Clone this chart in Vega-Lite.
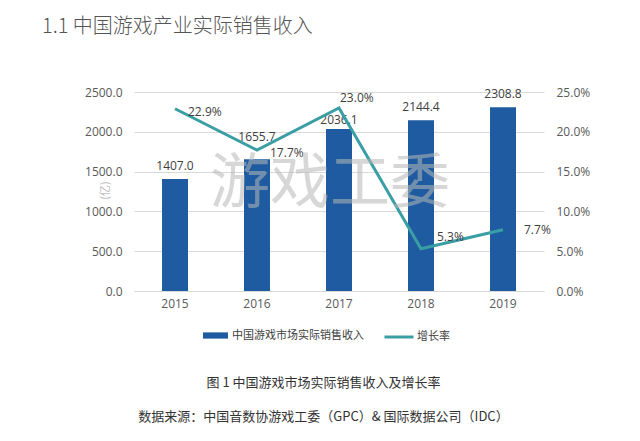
{
  "$schema": "https://vega.github.io/schema/vega-lite/v6.json",
  "width": 410,
  "height": 199,
  "autosize": {"type": "none"},
  "padding": {"left": 134, "top": 92, "right": 96, "bottom": 150},
  "background": "white",
  "title": {
    "text": "1.1  中国游戏产业实际销售收入",
    "anchor": "start",
    "frame": "group",
    "dx": -92,
    "offset": 33,
    "baseline": "alphabetic",
    "font": "Noto Sans CJK SC",
    "fontSize": 20,
    "fontWeight": 300,
    "color": "#555555"
  },
  "data": {
    "values": [
      {"year": "2015", "revenue": 1407.0, "rate": 0.229},
      {"year": "2016", "revenue": 1655.7, "rate": 0.177},
      {"year": "2017", "revenue": 2036.1, "rate": 0.230},
      {"year": "2018", "revenue": 2144.4, "rate": 0.053},
      {"year": "2019", "revenue": 2308.8, "rate": 0.077}
    ]
  },
  "layer": [
    {
      "layer": [
        {
          "mark": {"type": "bar", "size": 26},
          "encoding": {
            "x": {
              "field": "year",
              "type": "nominal",
              "scale": {"paddingInner": 0, "paddingOuter": 0},
              "axis": {
                "title": ["图 1  中国游戏市场实际销售收入及增长率", "数据来源：中国音数协游戏工委（GPC）& 国际数据公司（IDC）"],
                "titleX": 189,
                "titleY": 85,
                "titleAlign": "center",
                "titleBaseline": "top",
                "titleLineHeight": 34,
                "titleFont": "Noto Sans CJK SC",
                "titleFontSize": 13,
                "titleFontWeight": "normal",
                "titleColor": "#333333",
                "labelAngle": 0,
                "labelFont": "Open Sans",
                "labelFontSize": 12,
                "labelColor": "#595959",
                "labelPadding": 7,
                "ticks": false,
                "domain": true,
                "domainColor": "#d9d9d9",
                "grid": false
              }
            },
            "y": {
              "field": "revenue",
              "type": "quantitative",
              "scale": {"domain": [0, 2500], "nice": false},
              "axis": {
                "title": "(亿)",
                "titleX": -29,
                "titleY": 98,
                "titleAngle": -90,
                "titleAlign": "center",
                "titleBaseline": "middle",
                "titleColor": "#bdbdbd",
                "titleFont": "Noto Sans CJK SC",
                "titleFontSize": 11,
                "titleFontWeight": "normal",
                "values": [0, 500, 1000, 1500, 2000, 2500],
                "tickCount": 6,
                "labelOverlap": false,
                "format": ".1f",
                "labelFont": "Open Sans",
                "labelFontSize": 12,
                "labelColor": "#595959",
                "labelPadding": 12,
                "ticks": false,
                "domain": false,
                "grid": true,
                "gridColor": "#d9d9d9"
              }
            },
            "fill": {
              "datum": "中国游戏市场实际销售收入",
              "type": "nominal",
              "scale": {"range": ["#1e5ba0"]},
              "legend": {
                "orient": "none",
                "legendX": 69,
                "legendY": 231,
                "title": null,
                "symbolType": "M-1,-0.25H1V0.25H-1Z",
                "symbolSize": 625,
                "symbolStrokeWidth": 0,
                "labelFont": "Noto Sans CJK SC",
                "labelFontSize": 11,
                "labelColor": "#404040",
                "labelOffset": 4
              }
            }
          }
        },
        {
          "transform": [{"filter": "datum.year != '2016' && datum.year != '2017'"}],
          "mark": {"type": "text", "baseline": "middle", "dy": -13, "font": "Open Sans", "fontSize": 12, "color": "#404040"},
          "encoding": {
            "x": {"field": "year", "type": "nominal"},
            "y": {"field": "revenue", "type": "quantitative"},
            "text": {"field": "revenue", "type": "quantitative", "format": ".1f"}
          }
        },
        {
          "transform": [{"filter": "datum.year == '2016'"}],
          "mark": {"type": "text", "baseline": "middle", "dy": -22, "font": "Open Sans", "fontSize": 12, "color": "#404040"},
          "encoding": {
            "x": {"field": "year", "type": "nominal"},
            "y": {"field": "revenue", "type": "quantitative"},
            "text": {"field": "revenue", "type": "quantitative", "format": ".1f"}
          }
        },
        {
          "transform": [{"filter": "datum.year == '2017'"}],
          "mark": {"type": "text", "baseline": "middle", "dy": -9, "font": "Open Sans", "fontSize": 12, "color": "#404040"},
          "encoding": {
            "x": {"field": "year", "type": "nominal"},
            "y": {"field": "revenue", "type": "quantitative"},
            "text": {"field": "revenue", "type": "quantitative", "format": ".1f"}
          }
        }
      ]
    },
    {
      "layer": [
        {
          "mark": {"type": "line", "strokeWidth": 3},
          "encoding": {
            "x": {"field": "year", "type": "nominal"},
            "y": {
              "field": "rate",
              "type": "quantitative",
              "scale": {"domain": [0, 0.25], "nice": false},
              "axis": {
                "orient": "right",
                "title": null,
                "values": [0, 0.05, 0.1, 0.15, 0.2, 0.25],
                "tickCount": 6,
                "labelOverlap": false,
                "format": ".1%",
                "labelFont": "Open Sans",
                "labelFontSize": 12,
                "labelColor": "#595959",
                "labelPadding": 12,
                "ticks": false,
                "domain": false,
                "grid": false
              }
            },
            "stroke": {
              "datum": "增长率",
              "type": "nominal",
              "scale": {"range": ["#3a9ea5"]},
              "legend": {
                "orient": "none",
                "legendX": 249,
                "legendY": 229,
                "title": null,
                "symbolType": "stroke",
                "symbolSize": 841,
                "symbolStrokeWidth": 3,
                "labelFont": "Noto Sans CJK SC",
                "labelFontSize": 11,
                "labelColor": "#404040",
                "labelOffset": 2
              }
            }
          }
        },
        {
          "transform": [{"filter": "datum.year == '2015' || datum.year == '2016'"}],
          "mark": {"type": "text", "align": "left", "baseline": "middle", "dx": 13, "dy": 3, "font": "Open Sans", "fontSize": 12, "color": "#404040"},
          "encoding": {
            "x": {"field": "year", "type": "nominal"},
            "y": {"field": "rate", "type": "quantitative"},
            "text": {"field": "rate", "type": "quantitative", "format": ".1%"}
          }
        },
        {
          "transform": [{"filter": "datum.year == '2019'"}],
          "mark": {"type": "text", "align": "left", "baseline": "middle", "dx": 21, "dy": 0, "font": "Open Sans", "fontSize": 12, "color": "#404040"},
          "encoding": {
            "x": {"field": "year", "type": "nominal"},
            "y": {"field": "rate", "type": "quantitative"},
            "text": {"field": "rate", "type": "quantitative", "format": ".1%"}
          }
        },
        {
          "transform": [{"filter": "datum.year == '2017'"}],
          "mark": {"type": "text", "align": "left", "baseline": "middle", "dx": 1, "dy": -10, "font": "Open Sans", "fontSize": 12, "color": "#404040"},
          "encoding": {
            "x": {"field": "year", "type": "nominal"},
            "y": {"field": "rate", "type": "quantitative"},
            "text": {"field": "rate", "type": "quantitative", "format": ".1%"}
          }
        },
        {
          "transform": [{"filter": "datum.year == '2018'"}],
          "mark": {"type": "text", "align": "left", "baseline": "middle", "dx": 16, "dy": -12, "font": "Open Sans", "fontSize": 12, "color": "#404040"},
          "encoding": {
            "x": {"field": "year", "type": "nominal"},
            "y": {"field": "rate", "type": "quantitative"},
            "text": {"field": "rate", "type": "quantitative", "format": ".1%"}
          }
        },
        {
          "data": {"values": [{"label": "游戏工委"}]},
          "mark": {"type": "text", "font": "Noto Sans CJK SC", "fontSize": 60, "color": "#b8b8b8", "opacity": 0.55, "baseline": "middle", "align": "center", "dx": -9},
          "encoding": {
            "x": {"datum": "2017", "type": "nominal"},
            "y": {"datum": 0.133, "type": "quantitative"},
            "text": {"field": "label", "type": "nominal"}
          }
        }
      ]
    }
  ],
  "resolve": {"scale": {"y": "independent"}},
  "config": {
    "view": {"stroke": null},
    "legend": {"padding": 0},
    "axis": {"labelOverlap": false}
  }
}
